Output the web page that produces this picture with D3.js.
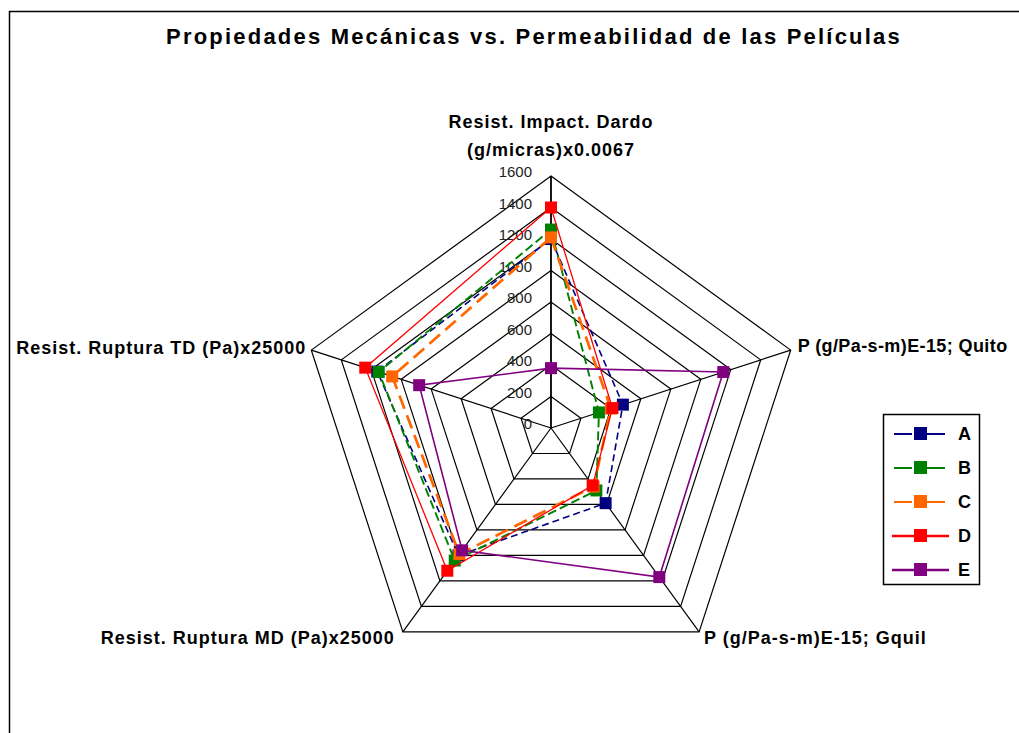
<!DOCTYPE html>
<html>
<head>
<meta charset="utf-8">
<script src="https://cdn.jsdelivr.net/npm/d3@7"></script>
<style>
 body { margin: 0; background: #fff; }
 svg { display: block; font-family: "Liberation Sans", Arial, sans-serif; }
 .title { font-size: 22px; font-weight: bold; letter-spacing: 2.2px; }
 .axisLabel { font-size: 18px; font-weight: bold; letter-spacing: 1px; }
 .tick { font-size: 15px; fill: #222; }
 .legendText { font-size: 18px; font-weight: bold; }
</style>
</head>
<body>
<svg width="1019" height="733"></svg>
<script>
const categories = [
 "Resist. Impact. Dardo (g/micras)x0.0067",
 "P (g/Pa-s-m)E-15; Quito",
 "P (g/Pa-s-m)E-15; Gquil",
 "Resist. Ruptura MD (Pa)x25000",
 "Resist. Ruptura TD (Pa)x25000"
];
const seriesNames = ["A", "B", "C", "D", "E"];
const valuesA = [1200, 480, 590, 1000, 1160];
const valuesB = [1260, 320, 490, 1040, 1150];
const valuesC = [1210, 400, 460, 990, 1060];
const valuesD = [1400, 410, 450, 1120, 1240];
const valuesE = [380, 1150, 1170, 960, 880];
const tickValues = [0, 200, 400, 600, 800, 1000, 1200, 1400, 1600];

const series = [
 { name: "A", values: valuesA, color: "#000080", dash: "7,4", width: 1.6 },
 { name: "B", values: valuesB, color: "#008000", dash: "9,4", width: 1.9 },
 { name: "C", values: valuesC, color: "#FF6600", dash: "14,7", width: 2.7 },
 { name: "D", values: valuesD, color: "#FF0000", dash: null, width: 1.3 },
 { name: "E", values: valuesE, color: "#800080", dash: null, width: 1.6 }
];

const cx = 551;
const cy = 428;
const radius = 252;

const svg = d3.select("svg");

// chart frame
svg
 .append("rect")
 .attr("x", 9.5)
 .attr("y", 11.5)
 .attr("width", 1030)
 .attr("height", 740)
 .attr("fill", "none")
 .attr("stroke", "#000")
 .attr("stroke-width", 1.5);

svg
 .append("text")
 .attr("class", "title")
 .attr("x", 534)
 .attr("y", 44)
 .attr("text-anchor", "middle")
 .text("Propiedades Mecánicas vs. Permeabilidad de las Películas");

const chart = svg.append("g").attr("transform", `translate(${cx},${cy})`);

const rScale = d3
 .scaleLinear()
 .domain([0, 1600])
 .range([0, radius]);

const angle = d3
 .scalePoint()
 .domain(categories)
 .range([0, (2 * Math.PI * 4) / 5]);

const pt = (cat, v) => {
 const a = angle(cat);
 return [rScale(v) * Math.sin(a), -rScale(v) * Math.cos(a)];
};

// grid rings
chart
 .selectAll(".ring")
 .data(tickValues.slice(1))
 .enter()
 .append("polygon")
 .attr("class", "ring")
 .attr("points", t => categories.map(c => pt(c, t).join(",")).join(" "))
 .attr("fill", "none")
 .attr("stroke", "#000")
 .attr("stroke-width", 1.2);

// spokes
chart
 .selectAll(".spoke")
 .data(categories)
 .enter()
 .append("line")
 .attr("class", "spoke")
 .attr("x1", 0)
 .attr("y1", 0)
 .attr("x2", c => pt(c, 1600)[0])
 .attr("y2", c => pt(c, 1600)[1])
 .attr("stroke", "#000")
 .attr("stroke-width", (c, i) => (i === 0 ? 1.8 : 1.2));

// value ticks along the first spoke
chart
 .selectAll(".tick")
 .data(tickValues)
 .enter()
 .append("text")
 .attr("class", "tick")
 .attr("x", -19)
 .attr("y", t => -rScale(t) + 1)
 .attr("text-anchor", "end")
 .text(t => t);

// axis labels
const labelPos = [
 { dx: 0, dy: -48, anchor: "middle", ls: 1 },
 { dx: 7, dy: 2, anchor: "start", ls: 0.4 },
 { dx: 5, dy: 12, anchor: "start", ls: 1 },
 { dx: -8, dy: 12, anchor: "end", ls: 1 },
 { dx: -5, dy: 4, anchor: "end", ls: 1 }
];

categories.forEach((c, i) => {
 const p = pt(c, 1600);
 const lp = labelPos[i];
 const t = chart
  .append("text")
  .attr("class", "axisLabel")
  .attr("text-anchor", lp.anchor)
  .style("letter-spacing", lp.ls + "px")
  .attr("x", p[0] + lp.dx)
  .attr("y", p[1] + lp.dy);
 if (i === 0) {
  t.append("tspan").attr("x", p[0]).text("Resist. Impact. Dardo");
  t.append("tspan").attr("x", p[0]).attr("dy", 28).text("(g/micras)x0.0067");
 } else {
  t.text(c);
 }
});

// series lines + markers
const line = d3.line().curve(d3.curveLinearClosed);

series.forEach(s => {
 const pts = categories.map((c, i) => pt(c, s.values[i]));
 chart
  .append("path")
  .attr("d", line(pts))
  .attr("fill", "none")
  .attr("stroke", s.color)
  .attr("stroke-width", s.width)
  .attr("stroke-dasharray", s.dash);
 chart
  .selectAll(null)
  .data(pts)
  .enter()
  .append("rect")
  .attr("x", d => d[0] - 6)
  .attr("y", d => d[1] - 6)
  .attr("width", 12)
  .attr("height", 12)
  .attr("fill", s.color);
});

// legend
const legend = svg.append("g").attr("transform", "translate(883,414)");
legend
 .append("rect")
 .attr("x", 0.5)
 .attr("y", 0.5)
 .attr("width", 96)
 .attr("height", 170)
 .attr("fill", "#fff")
 .attr("stroke", "#000")
 .attr("stroke-width", 1.5);

const legendY = d3
 .scalePoint()
 .domain(seriesNames)
 .range([20, 156]);

series.forEach(s => {
 const y = legendY(s.name);
 const g = legend.append("g").attr("transform", `translate(0,${y})`);
 if (s.dash) {
  g.append("line").attr("x1", 11).attr("x2", 29).attr("stroke", s.color).attr("stroke-width", 2);
  g.append("line").attr("x1", 43).attr("x2", 62).attr("stroke", s.color).attr("stroke-width", 2);
 } else {
  g.append("line").attr("x1", 9).attr("x2", 66).attr("stroke", s.color).attr("stroke-width", 2.5);
 }
 g.append("rect").attr("x", 31).attr("y", -7).attr("width", 13).attr("height", 13).attr("fill", s.color);
 g.append("text")
  .attr("class", "legendText")
  .attr("x", 75)
  .attr("y", 6)
  .text(s.name);
});
</script>
</body>
</html>
